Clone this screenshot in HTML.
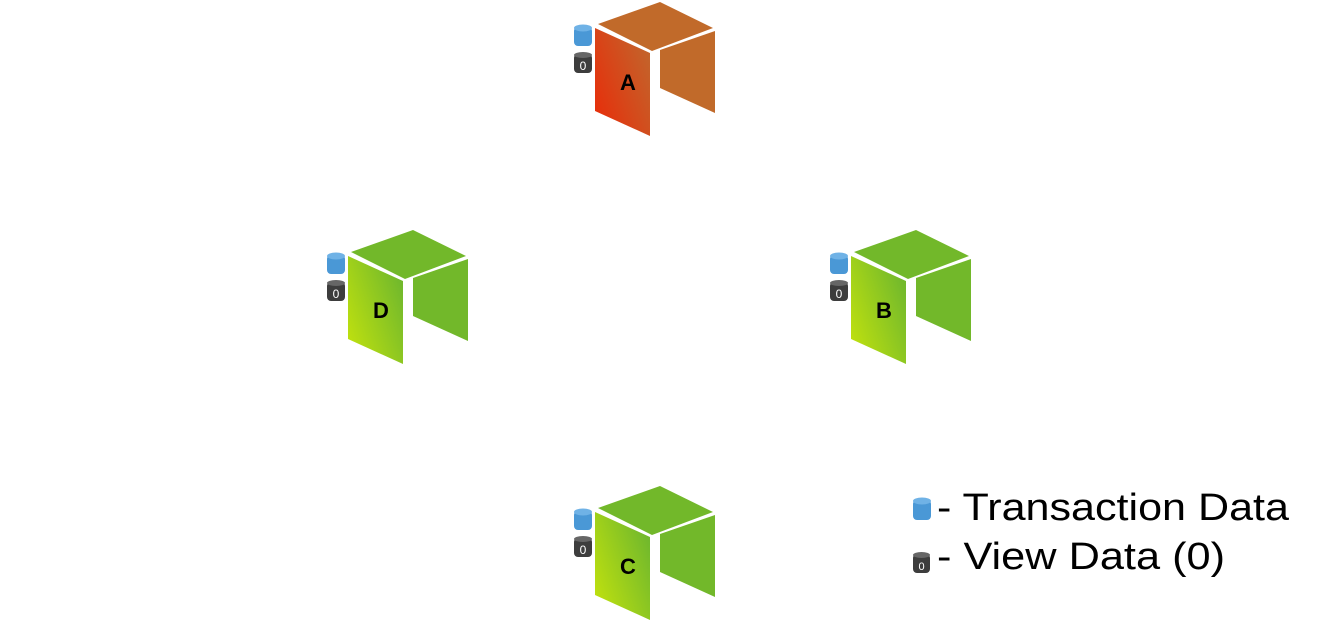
<!DOCTYPE html>
<html><head><meta charset="utf-8"><style>
html,body{margin:0;padding:0;background:#fff;}
svg{display:block;}
text{font-family:"Liberation Sans",sans-serif;}
</style></head><body>
<svg id="chart" width="1320" height="622" viewBox="0 0 1320 622" xmlns="http://www.w3.org/2000/svg">
<defs>
<linearGradient id="gOrange" x1="0" y1="1" x2="1" y2="0.3">
<stop offset="0" stop-color="#ea2a08"/><stop offset="1" stop-color="#c4622a"/></linearGradient>
<linearGradient id="gGreen" x1="0" y1="1" x2="1" y2="0.3">
<stop offset="0" stop-color="#c6e40c"/><stop offset="1" stop-color="#72b92c"/></linearGradient>
</defs>
<g id="nodes"></g>
<g>
<g>
<rect x="913" y="500" width="18" height="20" rx="4" fill="#4a98d6"/>
<ellipse cx="922" cy="501" rx="9" ry="3.5" fill="#6fb2e6"/>
</g>
<text x="937" y="520" font-size="38" textLength="352" lengthAdjust="spacingAndGlyphs" fill="#000">- Transaction Data</text>
<g>
<rect x="913" y="554" width="17" height="19" rx="4" fill="#3d3d3d"/>
<ellipse cx="921.5" cy="555" rx="8.5" ry="3" fill="#666"/>
<text x="921.5" y="570" font-size="11" text-anchor="middle" fill="#fff">0</text>
</g>
<text x="937" y="569" font-size="38" textLength="288" lengthAdjust="spacingAndGlyphs" fill="#000">- View Data (0)</text>
</g>
</svg>
<script>
const nodeLabels = ['A','D','B','C'];
const nodeX = [595,348,851,595];
const nodeY = [2,230,230,486];
const nodeState = ['faulty','ok','ok','ok'];
const NS='http://www.w3.org/2000/svg';
const root=document.getElementById('nodes');
function mk(tag,attrs,parent){const e=document.createElementNS(NS,tag);for(const k in attrs)e.setAttribute(k,attrs[k]);parent.appendChild(e);return e;}
function pts(ox,oy,arr){return arr.map(p=>(ox+p[0])+','+(oy+p[1])).join(' ');}
nodeLabels.forEach((lab,i)=>{
  const ox=nodeX[i], oy=nodeY[i];
  const orange=nodeState[i]==='faulty';
  const flat=orange?'#c16a2a':'#72b82a';
  const g=mk('g',{},root);
  
  
  mk('polygon',{points:pts(ox,oy,[[3,22],[65,0],[118,26],[57,49]]),fill:flat},g);
  mk('polygon',{points:pts(ox,oy,[[0,26],[55,51],[55,134],[0,109]]),fill:orange?'url(#gOrange)':'url(#gGreen)'},g);
  mk('polygon',{points:pts(ox,oy,[[65,48],[120,29],[120,111],[65,86]]),fill:flat},g);
  const t=mk('text',{x:ox+33,y:oy+88,'font-size':22,'font-weight':'bold','text-anchor':'middle',fill:'#000'},g);
  t.textContent=lab;
  const c1=mk('g',{},g);
  
  
  mk('rect',{x:ox-21,y:oy+25,width:18,height:19,rx:4,fill:'#4a98d6'},c1);
  mk('ellipse',{cx:ox-12,cy:oy+26,rx:9,ry:3.5,fill:'#6fb2e6'},c1);
  const c2=mk('g',{},g);
  
  
  mk('rect',{x:ox-21,y:oy+52,width:18,height:19,rx:4,fill:'#3d3d3d'},c2);
  mk('ellipse',{cx:ox-12,cy:oy+53,rx:9,ry:3,fill:'#666'},c2);
  const z=mk('text',{x:ox-12,y:oy+68,'font-size':12,'text-anchor':'middle',fill:'#fff'},c2);
  z.textContent='0';
});
</script>
</body></html>
